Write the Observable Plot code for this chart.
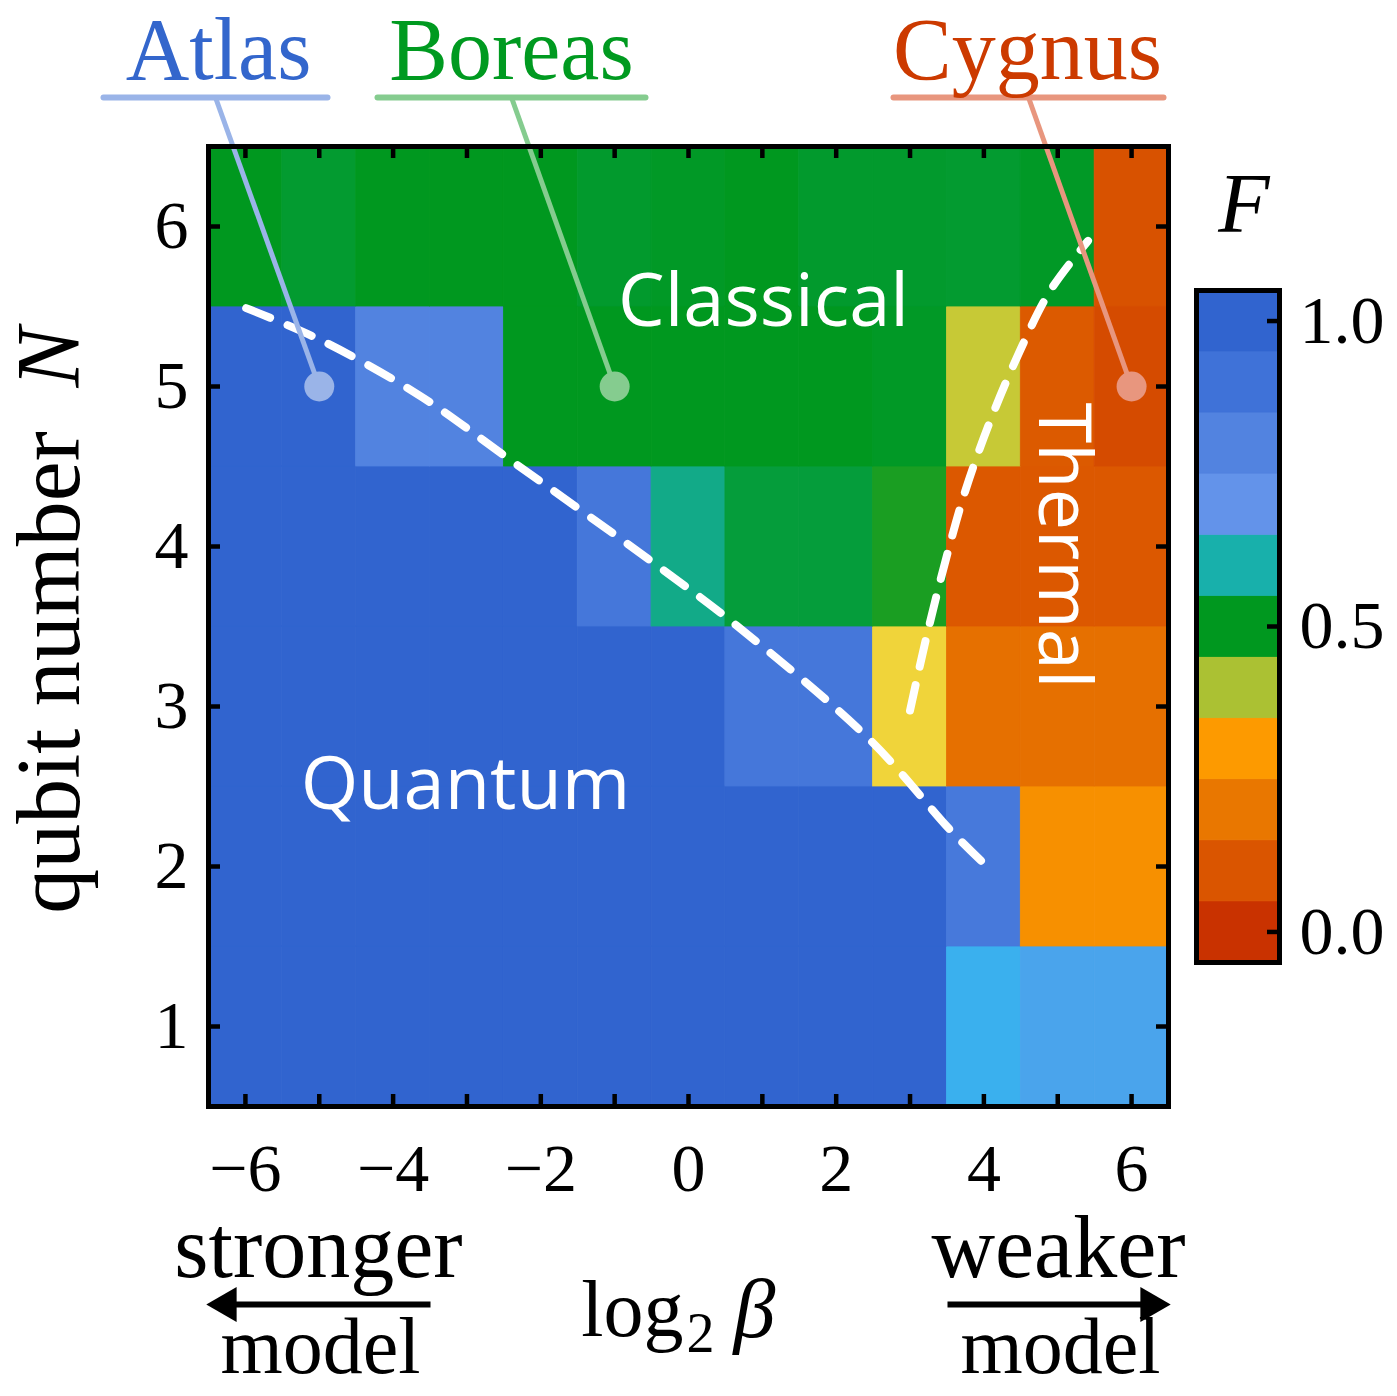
<!DOCTYPE html>
<html><head><meta charset="utf-8">
<script src="https://cdn.jsdelivr.net/npm/d3@7"></script>
<script src="https://cdn.jsdelivr.net/npm/@observablehq/plot@0.6"></script>
<style>
body{margin:0;background:#fff}
#wrap{position:relative;width:1397px;height:1396px;overflow:hidden}
#wrap svg{position:absolute;overflow:visible}
</style>
</head><body><div id="wrap"></div>
<script>
// ---------- data ----------
const betaValues = [-6,-5,-4,-3,-2,-1,0,1,2,3,4,5,6];
const qubitNumbers = [1,2,3,4,5,6];
const fidelityN6 = [0.50,0.512,0.50,0.50,0.50,0.51,0.505,0.50,0.51,0.51,0.512,0.505,0.09];
const fidelityN5 = [1.00,1.00,0.80,0.80,0.50,0.50,0.50,0.50,0.50,0.505,0.38,0.115,0.07];
const fidelityN4 = [1.00,1.00,1.00,1.00,1.00,0.87,0.575,0.52,0.52,0.485,0.11,0.11,0.11];
const fidelityN3 = [1.00,1.00,1.00,1.00,1.00,1.00,1.00,0.87,0.87,0.35,0.18,0.18,0.18];
const fidelityN2 = [1.00,1.00,1.00,1.00,1.00,1.00,1.00,1.00,1.00,1.00,0.86,0.27,0.27];
const fidelityN1 = [1.00,1.00,1.00,1.00,1.00,1.00,1.00,1.00,1.00,1.00,0.65,0.67,0.67];

const colorStops = [0,0.1,0.2,0.3,0.35,0.4,0.5,0.6,0.65,0.7,0.8,0.9,1.0];
const colorRange = ["#c93200","#da5500","#e97700","#fd9a00","#f0d43a","#abc133","#00981f","#18b0ab","#3ab0ee","#6393ea","#5283e0","#3f72d8","#3164cf"];
const colorbarValues = [0,0.1,0.2,0.3,0.4,0.5,0.6,0.7,0.8,0.9,1.0];
const colorbarTicks = [0,0.5,1.0];
const xTickLabels = [-6,-4,-2,0,2,4,6];
const yTickLabels = [1,2,3,4,5,6];

const quantumBoundaryBeta = [-5.99,-4.98,-3.63,-2.41,-0.51,0.64,2.46,3.55,4.02];
const quantumBoundaryN    = [5.49,5.29,4.94,4.54,3.91,3.51,2.79,2.225,2.01];
const thermalBoundaryBeta = [3.00,3.21,3.48,3.75,4.09,4.49,4.90,5.41];
const thermalBoundaryN    = [2.975,3.41,3.91,4.35,4.79,5.225,5.60,5.91];

const annotationNames = ["Atlas","Boreas","Cygnus"];
const annotationBeta = [-5,-1,6];
const annotationN = [5,5,5];
const annotationColors = ["#3366cc","#009a20","#cc3a00"];
const annotationLight = ["#9ab4e8","#85cc8f","#e8967e"];

const regionNames = ["Quantum","Classical","Thermal"];

// ---------- layout ----------
const W = 1397, H = 1396;
const mL = 208, mR = 229, mT = 146, mB = 290;
const pxB = (W - mL - mR) / 13, pxN = (H - mT - mB) / 6;
const bx = px => -6.5 + (px - mL) / pxB;
const ny = py => 6.5 - (py - mT) / pxN;
const serif = "'Liberation Serif', 'Times New Roman', serif";
const sans = "'Open Sans', sans-serif";

const rows = [fidelityN1,fidelityN2,fidelityN3,fidelityN4,fidelityN5,fidelityN6];
const cells = qubitNumbers.flatMap((n,i) => betaValues.map((b,j) => ({beta:b, N:n, F:rows[i][j]})));
const qLine = quantumBoundaryBeta.map((b,i) => ({b, n: quantumBoundaryN[i]}));
const tLine = thermalBoundaryBeta.map((b,i) => ({b, n: thermalBoundaryN[i]}));

const labelCenters = [218, 511, 1027];
const underlineEnds = [[103,327],[377,645],[893,1163]];
const annotations = annotationNames.map((name,i) => ({
  name, beta: annotationBeta[i], N: annotationN[i], color: annotationColors[i], light: annotationLight[i],
  lx: bx(labelCenters[i]), ux1: bx(underlineEnds[i][0]), ux2: bx(underlineEnds[i][1]),
  um: bx((underlineEnds[i][0] + underlineEnds[i][1]) / 2)
}));
const regionPos = [
  {name: regionNames[0], x: bx(465), y: ny(785), rotate: 0},
  {name: regionNames[1], x: bx(763), y: ny(302), rotate: 0},
  {name: regionNames[2], x: bx(1062), y: ny(545), rotate: 90}
];
const colorScale = {type: "linear", domain: colorStops, range: colorRange, interpolate: "rgb"};
const tickLenB = 12 / pxB, tickLenN = 12 / pxN;
const arrowY = 1304;

const main = Plot.plot({
  width: W, height: H,
  marginLeft: mL, marginRight: mR, marginTop: mT, marginBottom: mB,
  x: {domain: [-6.5, 6.5]},
  y: {domain: [0.5, 6.5]},
  color: colorScale,
  style: {fontFamily: serif, background: "white", overflow: "visible"},
  marks: [
    Plot.rect(cells, {x1: d => d.beta - 0.5, x2: d => d.beta + 0.5, y1: d => d.N - 0.5, y2: d => d.N + 0.5,
      fill: "F", stroke: "F", strokeWidth: 0.8}),
    Plot.line(qLine, {x: "b", y: "n", stroke: "white", strokeWidth: 8, strokeDasharray: "26,19", curve: "catmull-rom"}),
    Plot.line(tLine, {x: "b", y: "n", stroke: "white", strokeWidth: 8, strokeDasharray: "26,19", curve: "catmull-rom"}),
    Plot.text(regionPos, {x: "x", y: "y", text: "name", rotate: "rotate", fill: "white", fontFamily: sans, fontSize: 74, textAnchor: "middle", lineAnchor: "middle"}),
    // annotations
    Plot.link(annotations, {x1: "um", y1: ny(97), x2: "beta", y2: "N", stroke: d => d.light, strokeWidth: 5}),
    Plot.link(annotations, {x1: "ux1", x2: "ux2", y1: ny(97), y2: ny(97), stroke: d => d.light, strokeWidth: 6, strokeLinecap: "round"}),
    Plot.dot(annotations, {x: "beta", y: "N", r: 15, fill: d => d.light, stroke: null}),
    Plot.text(annotations, {x: "lx", y: ny(50), text: "name", fill: d => d.color, fontFamily: serif, fontSize: 88, lineAnchor: "middle"}),
    // frame & ticks
    Plot.frame({stroke: "black", strokeWidth: 5}),
    Plot.ruleX(betaValues, {y1: 6.5, y2: 6.5 - tickLenN, stroke: "black", strokeWidth: 4.5}),
    Plot.ruleX(betaValues, {y1: 0.5, y2: 0.5 + tickLenN, stroke: "black", strokeWidth: 4.5}),
    Plot.ruleY(qubitNumbers, {x1: -6.5, x2: -6.5 + tickLenB, stroke: "black", strokeWidth: 4.5}),
    Plot.ruleY(qubitNumbers, {x1: 6.5, x2: 6.5 - tickLenB, stroke: "black", strokeWidth: 4.5}),
    Plot.axisX({ticks: xTickLabels, tickSize: 0, tickPadding: 36, fontSize: 68, fontFamily: serif, label: null, fill: "black"}),
    Plot.axisY({ticks: yTickLabels, tickSize: 0, tickPadding: 20, tickFormat: d3.format("d"), fontSize: 68, fontFamily: serif, label: null, fill: "black"}),
    // axis titles
    Plot.text(["qubit number"], {x: bx(50), y: ny(672), text: d => d, rotate: -90, fontSize: 90, fontFamily: serif, lineAnchor: "middle"}),
    Plot.text(["N"], {x: bx(50), y: ny(357), text: d => d, rotate: -90, fontSize: 90, fontFamily: serif, fontStyle: "italic", lineAnchor: "middle"}),
    Plot.text(["stronger"], {x: bx(318), y: ny(1248), text: d => d, fontSize: 88, fontFamily: serif, lineAnchor: "middle"}),
    Plot.text(["model"], {x: bx(320), y: ny(1347), text: d => d, fontSize: 80, fontFamily: serif, lineAnchor: "middle"}),
    Plot.text(["weaker"], {x: bx(1058), y: ny(1248), text: d => d, fontSize: 88, fontFamily: serif, lineAnchor: "middle"}),
    Plot.text(["model"], {x: bx(1060), y: ny(1347), text: d => d, fontSize: 80, fontFamily: serif, lineAnchor: "middle"}),
    Plot.text(["log"], {x: bx(683), y: ny(1310), text: d => d, fontSize: 80, fontFamily: serif, textAnchor: "end", lineAnchor: "middle"}),
    Plot.text(["2"], {x: bx(686), y: ny(1334), text: d => d, fontSize: 56, fontFamily: serif, textAnchor: "start", lineAnchor: "middle"}),
    Plot.text(["β"], {x: bx(733), y: ny(1310), text: d => d, fontSize: 84, fontFamily: serif, fontStyle: "italic", textAnchor: "start", lineAnchor: "middle"}),
    // arrows
    Plot.link([{a: bx(430), b: bx(225)}], {x1: "a", x2: "b", y1: ny(arrowY), y2: ny(arrowY), stroke: "black", strokeWidth: 6}),
    Plot.dot([{a: bx(226)}], {x: "a", y: ny(arrowY), symbol: "triangle", r: 13, rotate: -90, fill: "black", stroke: null}),
    Plot.link([{a: bx(947), b: bx(1151)}], {x1: "a", x2: "b", y1: ny(arrowY), y2: ny(arrowY), stroke: "black", strokeWidth: 6}),
    Plot.dot([{a: bx(1150)}], {x: "a", y: ny(arrowY), symbol: "triangle", r: 13, rotate: 90, fill: "black", stroke: null})
  ]
});
main.style.left = "0px"; main.style.top = "0px";
document.getElementById("wrap").appendChild(main);

// ---------- colorbar ----------
const cbW = 247, cbH = 1000, cbL = 46, cbR = 118, cbT = 290, cbB = 38;
const cbPxY = (cbH - cbT - cbB) / 1.1;
const cb = Plot.plot({
  width: cbW, height: cbH,
  marginLeft: cbL, marginRight: cbR, marginTop: cbT, marginBottom: cbB,
  x: {domain: [0, 1], axis: null},
  y: {domain: [-0.05, 1.05]},
  color: colorScale,
  style: {fontFamily: serif, background: "transparent", overflow: "visible"},
  marks: [
    Plot.rect(colorbarValues, {x1: 0, x2: 1, y1: d => d - 0.05, y2: d => d + 0.05, fill: d => d, stroke: d => d, strokeWidth: 0.8}),
    Plot.frame({stroke: "black", strokeWidth: 5}),
    Plot.ruleY(colorbarTicks, {x1: 1, x2: 1 - 12 / (cbW - cbL - cbR), stroke: "black", strokeWidth: 4.5}),
    Plot.axisY({anchor: "right", ticks: colorbarTicks, tickSize: 0, tickPadding: 20, tickFormat: d3.format(".1f"), fontSize: 68, fontFamily: serif, label: null, fill: "black"}),
    Plot.text(["F"], {x: 0.57, y: 1.05 + (cbT - 205) / cbPxY, text: d => d, fontSize: 84, fontStyle: "italic", fontFamily: serif, lineAnchor: "middle"})
  ]
});
cb.style.left = "1150px"; cb.style.top = "0px";
document.getElementById("wrap").appendChild(cb);
</script>
</body></html>
